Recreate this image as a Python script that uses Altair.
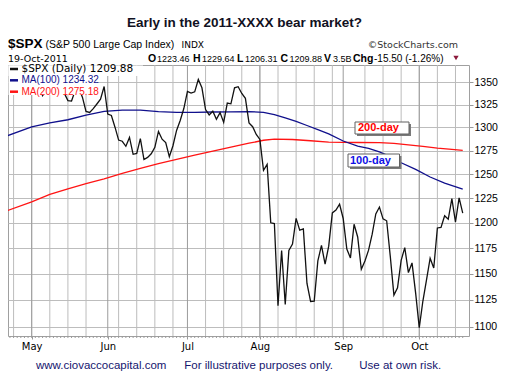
import altair as alt
import pandas as pd
import numpy as np

# ---------------- data ----------------
holidays = ["2011-04-22", "2011-05-30", "2011-07-04", "2011-09-05"]
calendar = pd.bdate_range("2011-04-20", "2011-10-19")
calendar = calendar[~calendar.isin(pd.to_datetime(holidays))]
i0 = list(calendar).index(pd.Timestamp("2011-05-02"))
cal_index = np.arange(len(calendar)) - i0

# $SPX daily close, 2-May-2011 .. 19-Oct-2011
spx_close = [
    1361.22, 1356.62, 1347.32, 1335.10, 1340.20, 1346.29, 1357.16, 1342.08, 1348.65, 1337.77,
    1329.47, 1328.98, 1340.68, 1343.60, 1333.27, 1317.37, 1316.28, 1320.47, 1325.69, 1331.10,
    1345.20,
    1314.55, 1312.94, 1300.16, 1286.17, 1284.94, 1279.56, 1289.00, 1270.98, 1271.83, 1287.87,
    1265.42, 1267.64, 1271.50, 1278.36, 1295.52, 1287.14, 1283.50, 1268.45, 1280.10, 1296.67,
    1307.41, 1320.64,
    1339.67, 1337.88, 1339.22, 1353.22, 1343.80, 1319.49, 1313.64, 1317.72, 1308.87, 1316.14,
    1305.44, 1326.73, 1325.84, 1343.80, 1345.02, 1337.43, 1331.94, 1304.89, 1300.67, 1292.28,
    1286.94, 1254.05, 1260.34, 1200.07, 1199.38, 1119.46, 1172.53, 1120.76, 1172.64, 1178.81,
    1204.49, 1192.76, 1193.89, 1140.65, 1123.53, 1123.82, 1162.35, 1177.60, 1159.27, 1176.80,
    1210.08, 1212.92, 1218.89,
    1204.42, 1173.97, 1165.24, 1198.62, 1185.90, 1154.23, 1162.27, 1172.87, 1188.68, 1209.11,
    1216.01, 1204.09, 1202.09, 1166.76, 1129.56, 1136.43, 1162.95, 1175.38, 1151.06, 1160.40,
    1131.42,
    1099.23, 1123.95, 1144.03, 1164.97, 1155.46, 1194.89, 1195.54, 1207.25, 1203.66, 1224.58,
    1200.86, 1225.38, 1209.88,
]

ma100_idx = [-7, 0, 5, 10, 15, 20, 25, 30, 35, 40, 45, 50, 55, 60, 64, 67, 70, 73, 76, 79,
             82, 86, 90, 93, 96, 99, 102, 106, 110, 114, 119]
ma100_val = [1290.5, 1300.5, 1304.8, 1308.3, 1313.3, 1317.5, 1318.8, 1318.8, 1317.2, 1316.5,
             1316.5, 1316.8, 1317.0, 1317.2, 1316.5, 1314.0, 1310.3, 1306.5, 1302.0, 1297.5,
             1292.8, 1285.2, 1279.8, 1277.3, 1273.5, 1268.5, 1262.0, 1255.0, 1247.0, 1240.6,
             1234.32]

ma200_idx = [-7, 0, 5, 10, 15, 20, 25, 30, 35, 40, 45, 50, 55, 60, 64, 67, 72, 77, 82, 90,
             96, 100, 104, 108, 112, 116, 119]
ma200_val = [1212.0, 1221.4, 1229.0, 1234.8, 1240.2, 1245.0, 1250.8, 1256.0, 1261.0, 1265.5,
             1270.0, 1274.3, 1278.6, 1282.8, 1286.0, 1287.3, 1286.8, 1285.5, 1284.0, 1283.6,
             1283.4, 1282.6, 1281.0, 1279.4, 1277.6, 1276.2, 1275.18]

y_ticks = [1100, 1125, 1150, 1175, 1200, 1225, 1250, 1275, 1300, 1325, 1350]
month_names = ["May", "Jun", "Jul", "Aug", "Sep", "Oct"]

header_pieces = [("O", "1223.46"), ("H", "1229.64"), ("L", "1206.31"),
                 ("C", "1209.88"), ("V", "3.5B"), ("Chg", "-15.50 (-1.26%)")]

# ---------------- derived tables ----------------
price_df = pd.DataFrame({"i": cal_index[cal_index >= 0], "v": spx_close})
ma100_df = pd.DataFrame({"i": ma100_idx, "v": ma100_val})
ma200_df = pd.DataFrame({"i": ma200_idx, "v": ma200_val})

months = calendar.month
month_start = [int(cal_index[k]) for k in range(1, len(calendar)) if months[k] != months[k - 1]]
mondays = [int(cal_index[k]) for k in range(len(calendar)) if calendar[k].weekday() == 0]
month_df = pd.DataFrame({"i": month_start})
week_df = pd.DataFrame({"i": mondays})
day_df = pd.DataFrame({"i": [int(v) for v in cal_index if v >= -6]})

label_expr = " : ".join(f"datum.value == {m} ? '{n}'" for m, n in zip(month_start, month_names)) + " : ''"

W, H = 461, 271
xs = alt.Scale(domain=[-6.54, 120.73], nice=False, zero=False)
ys = alt.Scale(type="log", domain=[1091.5, 1369.7], nice=False, zero=False)
dummy = pd.DataFrame({"a": [0]})

x_axis = alt.Axis(values=month_start, labelExpr=label_expr, grid=False, domain=False, tickSize=3,
                  tickColor="#999999", labelFont="DejaVu Sans", labelFontSize=10,
                  labelColor="#000000", labelPadding=2, labelFlush=False, title=None)
y_axis = alt.Axis(orient="right", values=y_ticks, format="d", grid=True, gridColor="#bdbdbd",
                  gridWidth=1, domain=False, tickSize=4, tickColor="#999999", labelPadding=1,
                  labelFont="Liberation Sans", labelFontSize=10.5, labelColor="#000000",
                  title=None)
X = alt.X("i:Q", scale=xs, axis=x_axis)
Y = alt.Y("v:Q", scale=ys, axis=y_axis)


def txt(text, x, y, size, font="Liberation Sans", bold=False, color="#000000",
        align="left", baseline="alphabetic"):
    return alt.Chart(dummy).mark_text(
        text=text, align=align, baseline=baseline, font=font, fontSize=size,
        fontWeight="bold" if bold else "normal", color=color
    ).encode(x=alt.value(x), y=alt.value(y))


def box(x1, x2, y1, y2, fill, stroke=None):
    kw = dict(fill=fill)
    if stroke:
        kw.update(stroke=stroke, strokeWidth=1)
    return alt.Chart(dummy).mark_rect(**kw).encode(
        x=alt.value(x1), x2=alt.value(x2), y=alt.value(y1), y2=alt.value(y2))


week_rules = alt.Chart(week_df).mark_rule(color="#bcbcbc", strokeWidth=1).encode(x=X)
month_rules = alt.Chart(month_df).mark_rule(color="#9c9c9c", strokeWidth=1).encode(x=X)
day_ticks = alt.Chart(day_df).mark_rule(color="#9a9a9a", strokeWidth=1).encode(
    x=X, y=alt.value(H), y2=alt.value(H + 2))

ma200_line = alt.Chart(ma200_df).mark_line(color="#ff1414", strokeWidth=1.3, clip=True).encode(x=X, y=Y)
ma100_line = alt.Chart(ma100_df).mark_line(color="#10108c", strokeWidth=1.3, clip=True).encode(x=X, y=Y)
price_line = alt.Chart(price_df).mark_line(color="#111111", strokeWidth=1.3, clip=True).encode(x=X, y=Y)

layers = [week_rules, month_rules, day_ticks, ma200_line, ma100_line, price_line]

# legend box (opaque, over the lines)
layers += [box(0.5, 135, 0.5, 11, "white"), box(0.5, 89, 0.5, 30, "white")]
legend_rows = [
    (f"$SPX (Daily) {spx_close[-1]:.2f}", "#111111", "#000000", 4, "DejaVu Sans", 10.5),
    (f"MA(100) {ma100_val[-1]:.2f}", "#10108c", "#10108c", 15.3, "Liberation Sans", 10),
    (f"MA(200) {ma200_val[-1]:.2f}", "#ff1414", "#ff1414", 26.7, "Liberation Sans", 10),
]
for text, lc, tc, yy, font, size in legend_rows:
    layers.append(alt.Chart(dummy).mark_rule(color=lc, strokeWidth=2.5).encode(
        x=alt.value(2), x2=alt.value(10), y=alt.value(yy)))
    layers.append(txt(text, 13.5, yy, size, font=font, color=tc, baseline="middle"))

# annotation boxes
layers += [box(349, 403, 59, 71, "#7a7a7a"), box(347, 401, 57, 69, "white", "#606060"),
           txt("200-day", 350, 63.3, 11, bold=True, color="#ff0000", baseline="middle")]
layers += [box(342, 393.5, 91, 104, "#7a7a7a"), box(340, 391.5, 89, 102, "white", "#606060"),
           txt("100-day", 342, 95.7, 11, bold=True, color="#1010e6", baseline="middle")]

# header texts (outside plot, relative to plot origin)
layers.append(txt("Early in the 2011-XXXX bear market?", 236.5, -38.5, 13.5,
                  bold=True, color="#111122", align="center"))
layers.append(txt("$SPX", 0, -17.5, 13.5, bold=True))
layers.append(txt("(S&P 500 Large Cap Index)", 37.5, -17.5, 10.5))
layers.append(txt("INDX", 173.5, -17.5, 9, font="DejaVu Sans"))
layers.append(txt("\u00a9StockCharts.com", 450, -17.5, 9.5, font="DejaVu Sans",
                  color="#333333", align="right"))
layers.append(txt("19-Oct-2011", 0, -3.5, 9.5, font="DejaVu Sans"))
label_x = [140, 185, 229, 272.5, 316, 345]
value_x = [149, 194, 237, 281.5, 325, 366]
for (lab, val), lx, vx in zip(header_pieces, label_x, value_x):
    layers.append(txt(lab, lx, -3.5, 10.5, bold=True))
    layers.append(txt(val, vx, -3.5, 10 if lab == "Chg" else 9, font="Liberation Sans"))
layers.append(alt.Chart(dummy).mark_point(shape="triangle-down", filled=True, size=28,
                                          color="#8c1a3c", opacity=1).encode(
    x=alt.value(448), y=alt.value(-7)))

# footer
foot = "#15156e"
layers.append(txt("www.ciovaccocapital.com", 28, 303.5, 11.5, color=foot))
layers.append(txt("For illustrative purposes only.", 176.3, 303.5, 11.5, color=foot))
layers.append(txt("Use at own risk.", 351.3, 303.5, 11.5, color=foot))

chart = alt.layer(*layers).properties(
    width=W, height=H,
    autosize=alt.AutoSizeParams(type="none"),
    padding={"left": 0, "top": 57, "right": 43, "bottom": 38},
    background="white",
).configure_view(stroke="#a0a0a0", strokeWidth=1)

chart.save("out.html", embed_options={"renderer": "svg", "actions": False})
